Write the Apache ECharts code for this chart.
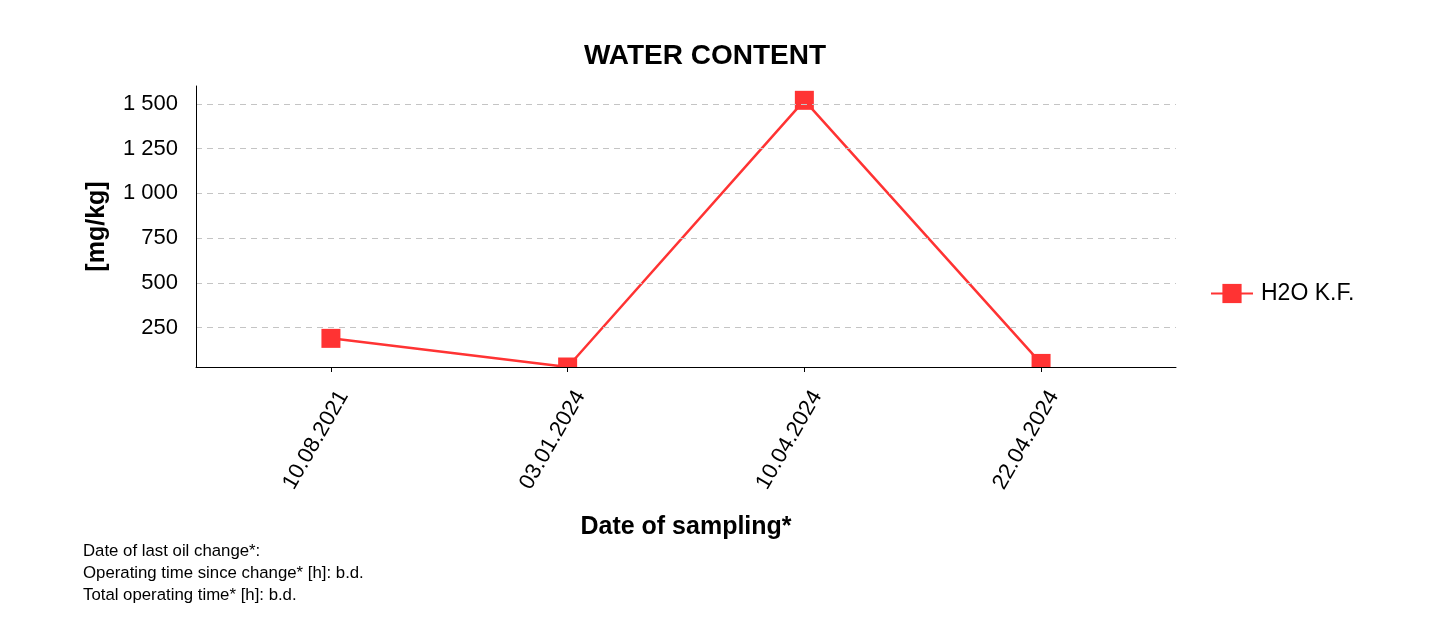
<!DOCTYPE html>
<html>
<head>
<meta charset="utf-8">
<script src="https://cdn.jsdelivr.net/npm/echarts@6/dist/echarts.min.js"></script>
<style>
html,body{margin:0;padding:0;background:#fff;}
#chart{width:1456px;height:632px;}
</style>
</head>
<body>
<div id="chart"></div>
<script>
const sampleDates = ['10.08.2021', '03.01.2024', '10.04.2024', '22.04.2024'];
const h2oValues = [190, 30, 1520, 50];
const yTickValues = [250, 500, 750, 1000, 1250, 1500];
const seriesName = 'H2O K.F.';
const footnoteLines = [
  'Date of last oil change*:',
  'Operating time since change* [h]: b.d.',
  'Total operating time* [h]: b.d.'
];

const FONT = '"Liberation Sans", Arial, sans-serif';
const GRID = {left: 196, right: 280, top: 86, bottom: 265};
const W = 1456, H = 632;
const plotBottom = H - GRID.bottom;
const plotW = W - GRID.left - GRID.right;

function fmtThousands(v) {
  const s = String(Math.round(v));
  return s.replace(/\B(?=(\d{3})+(?!\d))/g, ' ');
}

const chart = echarts.init(document.getElementById('chart'), null, {renderer: 'canvas'});
chart.setOption({
  backgroundColor: '#ffffff',
  animation: false,
  title: {
    text: 'WATER CONTENT',
    left: 700,
    top: 37,
    textAlign: 'center',
    textStyle: {fontFamily: FONT, fontSize: 28, fontWeight: 'bold', color: '#000'}
  },
  legend: {
    data: [seriesName],
    left: 1210,
    top: 282,
    padding: 0,
    itemWidth: 42,
    itemHeight: 24,
    textStyle: {fontFamily: FONT, fontSize: 23, color: '#000', padding: [0, 0, 0, 3]}
  },
  grid: {left: GRID.left, right: GRID.right, top: GRID.top, bottom: GRID.bottom, containLabel: false},
  xAxis: {
    type: 'value',
    min: -0.57,
    max: 3.57,
    z: 10,
    name: 'Date of sampling*',
    nameLocation: 'middle',
    nameGap: 148,
    nameTextStyle: {fontFamily: FONT, fontSize: 25, fontWeight: 'bold', color: '#000'},
    axisLine: {show: true, onZero: false, lineStyle: {color: '#000', width: 1}},
    axisTick: {show: true, length: 5, customValues: sampleDates.map((d, i) => i), lineStyle: {color: '#000'}},
    axisLabel: {
      customValues: sampleDates.map((d, i) => i),
      formatter: v => sampleDates[Math.round(v)] || '',
      rotate: 60,
      margin: 18,
      align: 'right',
      verticalAlign: 'top',
      lineHeight: 29,
      fontFamily: FONT, fontSize: 22, color: '#000'
    },
    splitLine: {show: false}
  },
  yAxis: {
    type: 'value',
    min: 'dataMin',
    max: 1600,
    z: 10,
    name: '[mg/kg]',
    nameLocation: 'middle',
    nameRotate: 90,
    nameGap: 86,
    nameTextStyle: {fontFamily: FONT, fontSize: 25, fontWeight: 'bold', color: '#000'},
    axisLine: {show: true, onZero: false, lineStyle: {color: '#000', width: 1}},
    axisTick: {show: false, customValues: yTickValues},
    axisLabel: {
      customValues: yTickValues,
      formatter: v => fmtThousands(v),
      margin: 18,
      fontFamily: FONT, fontSize: 22, color: '#000'
    },
    splitLine: {show: true, lineStyle: {color: '#c4c4c4', type: [6, 5], width: 1}}
  },
  graphic: [
    {
      type: 'rect',
      z: 5,
      silent: true,
      shape: {x: GRID.left + 1, y: plotBottom + 1, width: plotW + 10, height: 20},
      style: {fill: '#ffffff'}
    },
    {
      type: 'text',
      left: 83,
      top: 540,
      z: 20,
      style: {
        text: footnoteLines.join('\n'),
        font: '16.8px ' + FONT,
        lineHeight: 22,
        fill: '#000'
      }
    }
  ],
  series: [{
    name: seriesName,
    type: 'line',
    data: h2oValues.map((v, i) => [i, v]),
    symbol: 'rect',
    symbolSize: 19,
    z: 2,
    clip: true,
    lineStyle: {color: '#ff3333', width: 2.5},
    itemStyle: {color: '#ff3333'}
  }]
});
</script>
</body>
</html>
